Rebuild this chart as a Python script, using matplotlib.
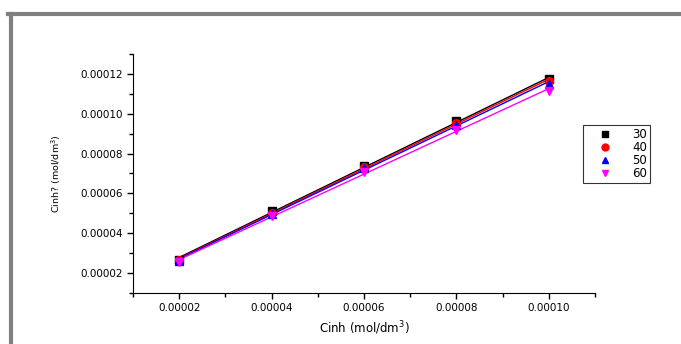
import matplotlib
matplotlib.use("Agg")
import matplotlib.pyplot as plt
from matplotlib.lines import Line2D
from matplotlib.ticker import MultipleLocator, FormatStrFormatter
import numpy as np

# inhibitor concentration (mol/dm3)
cinh = [0.00002, 0.00004, 0.00006, 0.00008, 0.00010]

# Cinh/theta values, one list per temperature
temps = ["30", "40", "50", "60"]
y_30 = [0.0000268, 0.0000510, 0.0000740, 0.0000962, 0.0001172]
y_40 = [0.0000264, 0.0000504, 0.0000733, 0.0000954, 0.0001163]
y_50 = [0.0000261, 0.0000498, 0.0000727, 0.0000946, 0.0001150]
y_60 = [0.0000255, 0.0000489, 0.0000708, 0.0000920, 0.0001113]
series = [y_30, y_40, y_50, y_60]

colors = ["black", "red", "blue", "magenta"]
markers = ["s", "o", "^", "v"]

plt.rcParams["font.family"] = ["DejaVu Sans"]

fig = plt.figure(figsize=(6.81, 3.44), dpi=100)
ax = fig.add_axes([0.1953, 0.1483, 0.6784, 0.6947])

x = np.array(cinh)
for ys, c, m, t in zip(series, colors, markers, temps):
    k, b = np.polyfit(x, ys, 1)
    ax.plot(x, k * x + b, color=c, lw=1.0, zorder=2)
    ax.plot(x, ys, linestyle="none", marker=m, color=c, markersize=5.5, zorder=3)

ax.set_xlim(0.00001, 0.00011)
ax.set_ylim(0.00001, 0.00013)
ax.xaxis.set_major_locator(MultipleLocator(0.00002))
ax.xaxis.set_minor_locator(MultipleLocator(0.00001))
ax.yaxis.set_major_locator(MultipleLocator(0.00002))
ax.yaxis.set_minor_locator(MultipleLocator(0.00001))
ax.xaxis.set_major_formatter(FormatStrFormatter("%.5f"))
ax.yaxis.set_major_formatter(FormatStrFormatter("%.5f"))
ax.tick_params(which="both", direction="out", width=1, labelsize=7.5)
ax.tick_params(which="major", length=4)
ax.tick_params(which="minor", length=3)
ax.spines["top"].set_visible(False)
ax.spines["right"].set_visible(False)

ax.set_xlabel("Cinh (mol/dm$^3$)", fontsize=8.5, labelpad=4)
ax.set_ylabel("Cinh? (mol/dm$^3$)", fontsize=6.8, labelpad=12)

handles = [Line2D([], [], linestyle="none", marker=m, color=c, markersize=5)
           for c, m in zip(colors, markers)]
leg = ax.legend(handles, temps, loc="upper left", bbox_to_anchor=(0.974, 0.703),
                fontsize=8.5, frameon=True, fancybox=False, borderpad=0.25,
                labelspacing=0.0, handletextpad=0.65, handlelength=3.3,
                borderaxespad=0)
leg.get_frame().set_edgecolor("black")
leg.get_frame().set_linewidth(0.8)

# grey frame on top and left of the image
fig.add_artist(Line2D([8 / 681, 1], [0.959, 0.959], color="#808080", lw=3,
                      transform=fig.transFigure))
fig.add_artist(Line2D([0.016, 0.016], [0, 0.959], color="#808080", lw=3,
                      transform=fig.transFigure))

fig.savefig("out.png", dpi=100)
